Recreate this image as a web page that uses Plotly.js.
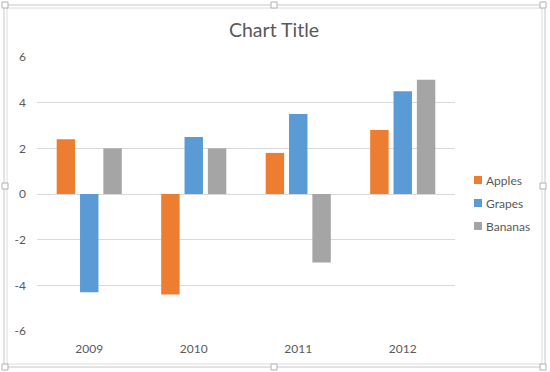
<!DOCTYPE html>
<html>
<head>
<meta charset="utf-8">
<script src="https://cdn.plot.ly/plotly-3.0.1.min.js"></script>
<style>html,body{margin:0;padding:0;background:#fff;}#chart{width:550px;height:372px;}</style>
</head>
<body>
<div id="chart"></div>
<script>
const categories = ['2009', '2010', '2011', '2012'];
const seriesNames = ['Apples', 'Grapes', 'Bananas'];
const apples = [2.4, -4.4, 1.8, 2.8];
const grapes = [-4.3, 2.5, 3.5, 4.5];
const bananas = [2, 2, -3, 5];
const colors = ['#ED7D31', '#5B9BD5', '#A5A5A5'];
const yTicks = [-6, -4, -2, 0, 2, 4, 6];

const W = 550, H = 372;
const M = {l: 37, r: 95, t: 57, b: 41, autoexpand: false};
const pw = W - M.l - M.r, ph = H - M.t - M.b;
const px = v => (v - M.l) / pw;
const py = v => (H - M.b - v) / ph;

const values = [apples, grapes, bananas];
const traces = [];
values.forEach((vals, i) => {
  traces.push({
    type: 'bar', x: categories, y: vals, name: seriesNames[i],
    marker: {color: colors[i]}, showlegend: false, hoverinfo: 'none'
  });
});
values.forEach((vals, i) => {
  traces.push({
    type: 'scatter', mode: 'markers', x: [categories[0]], y: [null], name: seriesNames[i],
    marker: {color: colors[i], symbol: 'square', size: 8},
    legendgroup: 'g' + i, showlegend: true, hoverinfo: 'none'
  });
});

const shapes = [];
shapes.push({type: 'rect', xref: 'paper', yref: 'paper', x0: px(4), x1: px(545), y0: py(5), y1: py(367), line: {color: '#c8c8c8', width: 1}});
shapes.push({type: 'rect', xref: 'paper', yref: 'paper', x0: px(7), x1: px(542), y0: py(8), y1: py(364), line: {color: '#dcdcdc', width: 1}});
const hx = [5, 274, 543], hy = [5, 186, 367];
hx.forEach(x => hy.forEach(y => {
  if (x === 274 && y === 186) return;
  shapes.push({type: 'rect', xref: 'paper', yref: 'paper', x0: px(x - 3), x1: px(x + 3), y0: py(y - 3), y1: py(y + 3),
    line: {color: '#b0b0b0', width: 1}, fillcolor: '#ffffff'});
}));

const layout = {
  width: W, height: H,
  margin: M,
  paper_bgcolor: '#ffffff', plot_bgcolor: '#ffffff',
  font: {family: 'Lato, "Open Sans", sans-serif', color: '#595959', size: 12},
  title: {text: 'Chart Title', font: {size: 19.5, color: '#595959'}, x: 274 / W, xanchor: 'center', xref: 'container', y: 1 - 30 / H, yanchor: 'middle', yref: 'container'},
  barmode: 'group', bargap: 0.33, bargroupgap: 0.21,
  xaxis: {type: 'category', showgrid: false, zeroline: false, showline: false, ticks: '', ticklabelstandoff: 9, tickfont: {size: 12, color: '#595959'}, fixedrange: true},
  yaxis: {range: [-6, 6], tickvals: yTicks, ticktext: yTicks.map(String), showgrid: true, gridcolor: '#d9d9d9', gridwidth: 1,
    zeroline: true, zerolinecolor: '#d9d9d9', zerolinewidth: 1, showline: false, ticks: '', ticklabelstandoff: 10,
    tickfont: {size: 12, color: '#595959'}, fixedrange: true},
  legend: {x: px(458), xanchor: 'left', y: py(203), yanchor: 'middle', font: {size: 12, color: '#595959'},
    traceorder: 'grouped', tracegroupgap: 4, itemwidth: 30, bgcolor: 'rgba(0,0,0,0)'},
  shapes: shapes,
  showlegend: true
};

Plotly.newPlot('chart', traces, layout, {displayModeBar: false, staticPlot: true}).then(gd => {
  gd.querySelectorAll('.legend .legendtext').forEach(t => t.setAttribute('x', '28'));
});
</script>
</body>
</html>
